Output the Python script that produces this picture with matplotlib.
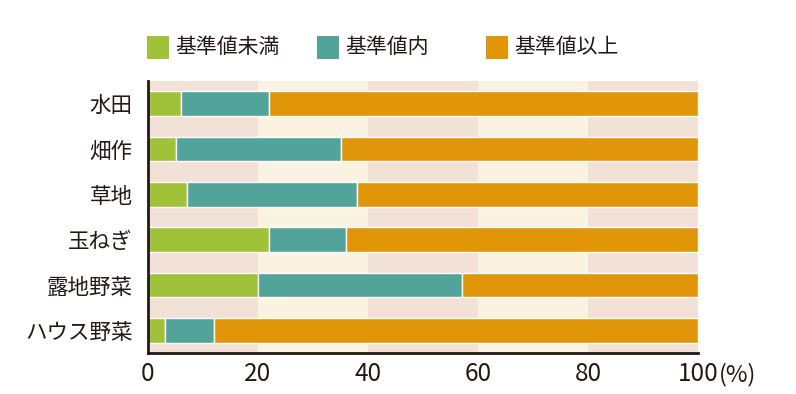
import matplotlib
matplotlib.use("Agg")
import matplotlib.pyplot as plt
from matplotlib.patches import Rectangle

plt.rcParams['font.family'] = ['Noto Sans CJK JP', 'DejaVu Sans']

# ------------ data ------------
categories = ['水田', '畑作', '草地', '玉ねぎ', '露地野菜', 'ハウス野菜']
below = [6, 5, 7, 22, 20, 3]        # 基準値未満
within = [16, 30, 31, 14, 37, 9]    # 基準値内
above = [78, 65, 62, 64, 43, 88]    # 基準値以上
series_names = ['基準値未満', '基準値内', '基準値以上']
xticks = [0, 20, 40, 60, 80, 100]
xtick_labels = ['0', '20', '40', '60', '80', '100']

# ------------ plotting ------------
COLORS = ['#a0c238', '#52a39a', '#e09608']
BAND_A = '#f2e1d7'
BAND_B = '#faf3e1'
INK = '#231815'

W, H = 796, 394
fig = plt.figure(figsize=(W / 100, H / 100), dpi=100)
ax = fig.add_axes([148 / W, 1 - 353 / H, 550 / W, 272 / H])

# alternating background bands between grid positions
for i in range(len(xticks) - 1):
    ax.axvspan(xticks[i], xticks[i + 1], color=BAND_A if i % 2 == 0 else BAND_B,
               lw=0, zorder=0)

ypos = list(range(len(categories)))
left = [0] * len(categories)
for vals, col in zip([below, within, above], COLORS):
    ax.barh(ypos, vals, left=left, height=0.55, color=col,
            edgecolor='white', linewidth=1, zorder=2)
    left = [l + v for l, v in zip(left, vals)]

ax.set_xlim(0, 100)
ax.set_ylim(len(categories) - 0.5, -0.5)
ax.set_yticks(ypos)
ax.set_yticklabels(categories, fontsize=15.5, color=INK)
ax.set_xticks(xticks)
ax.set_xticklabels(xtick_labels, fontsize=17.5, color=INK)
ax.tick_params(axis='y', length=0, pad=11)
ax.tick_params(axis='x', length=0, pad=6)
# unit placed right after the last tick label
ax.text(1.0 + 21 / 550, -10 / 272, '(%)', transform=ax.transAxes,
        fontsize=17, color=INK, ha='left', va='top')

for s in ['top', 'right']:
    ax.spines[s].set_visible(False)
for s in ['left', 'bottom']:
    ax.spines[s].set_color(INK)
    ax.spines[s].set_linewidth(2)
    ax.spines[s].set_zorder(3)

# legend drawn at fixed pixel positions like the original
legend_x = [147, 317, 486]
for name, col, lx in zip(series_names, COLORS, legend_x):
    fig.add_artist(Rectangle((lx / W, 1 - 59 / H), 22 / W, 23 / H,
                             facecolor=col, edgecolor='none',
                             transform=fig.transFigure))
    fig.text((lx + 28) / W, 1 - 47 / H, name, fontsize=15, color=INK,
             ha='left', va='center')

fig.savefig('out.png', dpi=100)
